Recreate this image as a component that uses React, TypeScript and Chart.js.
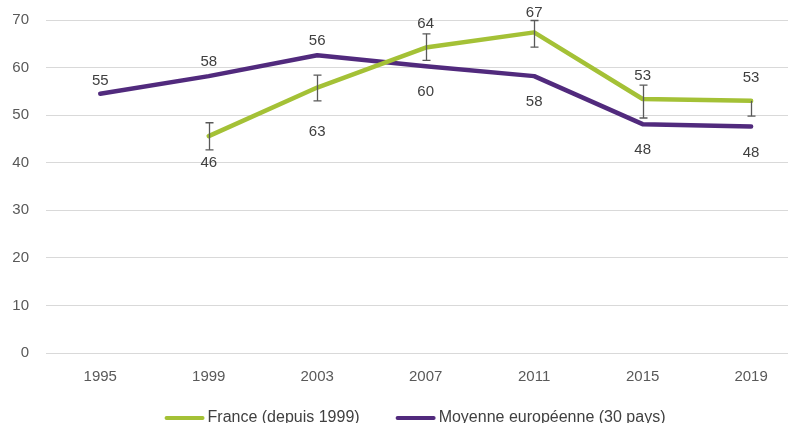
import React, { useEffect, useRef } from "react";
import { Chart, registerables } from "chart.js";

Chart.register(...registerables);

const years = ["1995", "1999", "2003", "2007", "2011", "2015", "2019"];
const france = [null, 45.6, 55.8, 64.2, 67.4, 53.4, 53.0];
const europe = [54.5, 58.2, 62.6, 60.3, 58.2, 48.1, 47.6];
const franceLow = [null, 42.7, 53.0, 61.5, 64.3, 49.4, 49.8];
const franceHigh = [null, 48.4, 58.4, 67.1, 69.9, 56.3, 53.0];
const franceLabels = [null, "46", "63", "64", "67", "53", "53"];
const europeLabels = ["55", "58", "56", "60", "58", "48", "48"];
const seriesNames = ["France (depuis 1999)", "Moyenne européenne (30 pays)"];

const GREEN = "#A4C136";
const PURPLE = "#512A7D";
const FONT = "'Liberation Sans', Arial, sans-serif";

// label vertical offsets (px, label centre relative to point)
const franceLabelOffset = [0, 27, 44, -24, -20, -23, -23];
const europeLabelOffset = [-13, -14, -14, 26, 26, 26, 26];

const errorBarPlugin = {
  id: "errorBars",
  afterDatasetsDraw(chart: any) {
    const { ctx, scales } = chart;
    const xs = scales.x;
    const ys = scales.y;
    ctx.save();
    ctx.strokeStyle = "#595959";
    ctx.lineWidth = 1.3;
    for (let i = 0; i < years.length; i++) {
      const lo = franceLow[i];
      const hi = franceHigh[i];
      const v = france[i];
      if (lo == null || hi == null || v == null) continue;
      const x = Math.round(xs.getPixelForValue(i)) + 0.5;
      const yl = ys.getPixelForValue(lo);
      const yh = ys.getPixelForValue(hi);
      ctx.beginPath();
      ctx.moveTo(x, yh);
      ctx.lineTo(x, yl);
      ctx.stroke();
      ctx.beginPath();
      ctx.moveTo(x - 4, yl);
      ctx.lineTo(x + 4, yl);
      if (hi !== v) {
        ctx.moveTo(x - 4, yh);
        ctx.lineTo(x + 4, yh);
      }
      ctx.stroke();
    }
    ctx.restore();
  },
};

const labelPlugin = {
  id: "pointLabels",
  afterDatasetsDraw(chart: any) {
    const { ctx, scales } = chart;
    const xs = scales.x;
    const ys = scales.y;
    ctx.save();
    ctx.font = `15px ${FONT}`;
    ctx.fillStyle = "#404040";
    ctx.textAlign = "center";
    ctx.textBaseline = "middle";
    const draw = (vals: any[], labels: any[], offs: number[]) => {
      for (let i = 0; i < vals.length; i++) {
        if (vals[i] == null || labels[i] == null) continue;
        const x = xs.getPixelForValue(i);
        const y = ys.getPixelForValue(vals[i]);
        ctx.fillText(labels[i], x, y + offs[i]);
      }
    };
    draw(france, franceLabels, franceLabelOffset);
    draw(europe, europeLabels, europeLabelOffset);
    ctx.restore();
  },
};

const legendPlugin = {
  id: "customLegend",
  afterDraw(chart: any) {
    const { ctx, chartArea } = chart;
    ctx.save();
    ctx.font = `16px ${FONT}`;
    const colors = [GREEN, PURPLE];
    const lineW = 40;
    const gap = 3;
    const itemGap = 36;
    const widths = seriesNames.map((t) => ctx.measureText(t).width);
    const total = widths.reduce((a, w) => a + lineW + gap + w, 0) + itemGap;
    let x = (chartArea.left + chartArea.right) / 2 - total / 2 - 2;
    const y = 418;
    ctx.textBaseline = "middle";
    ctx.textAlign = "left";
    for (let i = 0; i < seriesNames.length; i++) {
      ctx.strokeStyle = colors[i];
      ctx.lineWidth = 4;
      ctx.lineCap = "round";
      ctx.beginPath();
      ctx.moveTo(x + 2, y);
      ctx.lineTo(x + lineW - 2, y);
      ctx.stroke();
      x += lineW + gap;
      ctx.fillStyle = "#404040";
      ctx.fillText(seriesNames[i], x, y);
      x += widths[i] + itemGap;
    }
    ctx.restore();
  },
};

export default function App() {
  const ref = useRef<HTMLCanvasElement>(null);
  useEffect(() => {
    document.body.style.margin = "0";
    if (!ref.current) return;
    const chart = new Chart(ref.current, {
      type: "line",
      data: {
        datasets: [
          {
            label: seriesNames[0],
            data: france.map((v, i) => ({ x: i, y: v })) as any,
            borderColor: GREEN,
            backgroundColor: GREEN,
            borderWidth: 4.5,
            pointRadius: 0,
            borderCapStyle: "round",
            borderJoinStyle: "round",
            tension: 0,
          },
          {
            label: seriesNames[1],
            data: europe.map((v, i) => ({ x: i, y: v })) as any,
            borderColor: PURPLE,
            backgroundColor: PURPLE,
            borderWidth: 4.5,
            pointRadius: 0,
            borderCapStyle: "round",
            borderJoinStyle: "round",
            tension: 0,
          },
        ],
      },
      options: {
        animation: false,
        responsive: false,
        devicePixelRatio: 1,
        layout: { padding: { top: 20, left: 0, right: 2, bottom: 0 } },
        plugins: {
          legend: { display: false },
          tooltip: { enabled: false },
        },
        scales: {
          x: {
            type: "linear",
            min: -0.5,
            max: 6.34,
            afterBuildTicks: (s: any) => {
              s.ticks = years.map((_, i) => ({ value: i }));
            },
            afterFit: (s: any) => {
              s.height = 70;
              s.paddingLeft = 0;
              s.paddingRight = 0;
              s.paddingTop = 0;
              s.paddingBottom = 0;
            },
            ticks: {
              callback: (v: any) => years[v as number] ?? "",
              color: "#595959",
              font: { family: FONT, size: 15 },
              padding: 15,
              maxRotation: 0,
              autoSkip: false,
            },
            grid: { display: false, drawTicks: false },
            border: { display: false },
          },
          y: {
            min: 0,
            max: 70,
            afterFit: (s: any) => {
              s.width = 46;
              s.paddingLeft = 0;
              s.paddingRight = 0;
              s.paddingTop = 0;
              s.paddingBottom = 0;
            },
            ticks: {
              stepSize: 10,
              color: "#595959",
              font: { family: FONT, size: 15 },
              padding: 17,
            },
            grid: { color: "#D9D9D9", lineWidth: 1, drawTicks: false },
            border: { display: false },
          },
        },
      },
      plugins: [errorBarPlugin, labelPlugin, legendPlugin],
    });
    return () => chart.destroy();
  }, []);
  return (
    <div style={{ position: "fixed", left: 0, top: 0, width: 790, height: 423 }}>
      <canvas ref={ref} width={790} height={423} style={{ display: "block" }} />
    </div>
  );
}
